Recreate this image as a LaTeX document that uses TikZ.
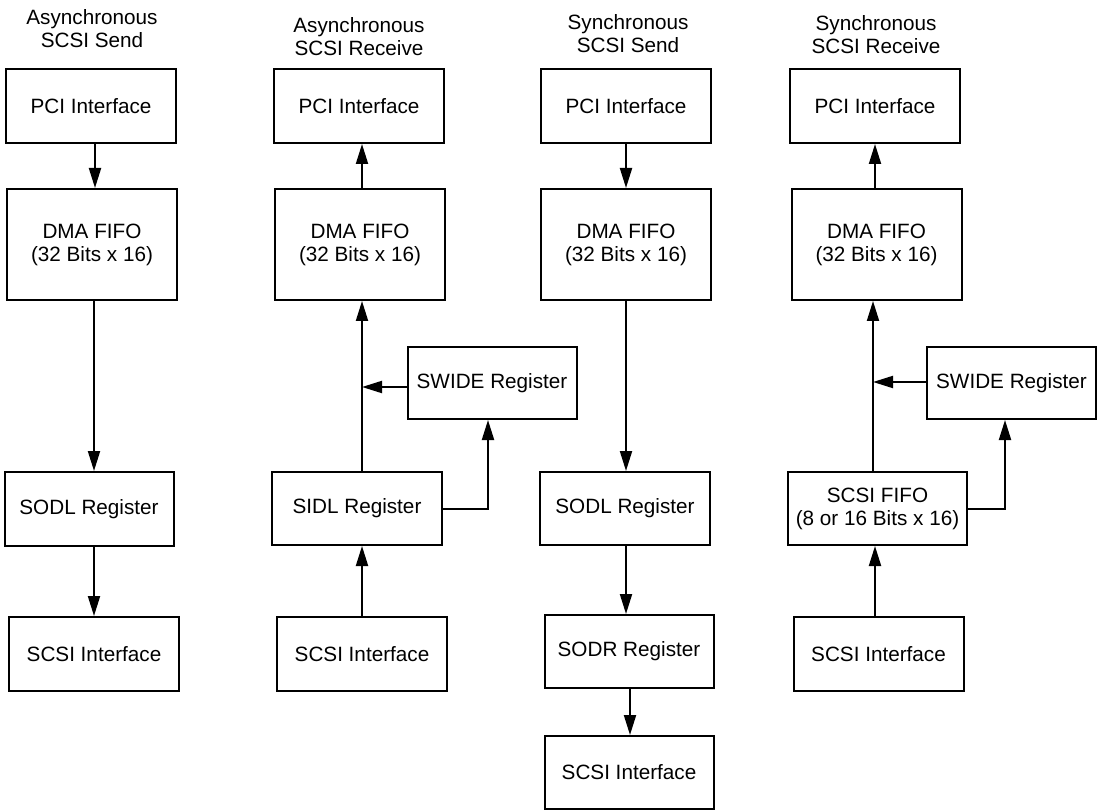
\documentclass[tikz,border=0pt]{standalone}
\usepackage{fontspec}
\setmainfont{Liberation Sans}
\usetikzlibrary{arrows.meta}
\begin{document}
\begin{tikzpicture}[x=1pt,y=-1pt,>={Triangle[length=20pt,width=12pt]}]
                  \tikzset{
                      blk/.style={draw,line width=2pt,inner sep=0pt,align=center,minimum width=170pt,minimum height=74pt},
                      tall/.style={blk,minimum height=111pt},
                      ttl/.style={inner sep=0pt,align=center},
                      con/.style={->,line width=2pt}
                  }
                  \useasboundingbox (0,0) rectangle (1098,810);
                  \fontsize{20.7}{23}\selectfont
                  % asynchronous send
                  \node[ttl] (a-title) at (92,28.5) {Asynchronous\\SCSI Send};
                  \node[blk] (a-pci) at (91,106) {PCI Interface};
                  \node[tall] (a-dma) at (92,244.5) {DMA FIFO\\(32 Bits x 16)};
                  \node[blk,minimum width=169pt] (a-sodl) at (89,509) {SODL Register};
                  \node[blk] (a-scsi) at (94,654) {SCSI Interface};
                  \draw[con] (a-pci.south -| 95,0) -- (a-dma.north -| 95,0);
                  \draw[con] (a-dma.south -| 94,0) -- (a-sodl.north -| 94,0);
                  \draw[con] (a-sodl.south -| 94,0) -- (a-scsi.north -| 94,0);
                  % asynchronous receive
                  \node[ttl] (b-title) at (359,36.5) {Asynchronous\\SCSI Receive};
                  \node[blk] (b-pci) at (359,106) {PCI Interface};
                  \node[tall] (b-dma) at (360,244.5) {DMA FIFO\\(32 Bits x 16)};
                  \node[blk,minimum width=169pt,minimum height=72pt] (b-swide) at (492,383) {SWIDE Register};
                  \node[blk,minimum height=73pt] (b-sidl) at (357,508.5) {SIDL Register};
                  \node[blk] (b-scsi) at (362,654) {SCSI Interface};
                  \draw[con] (b-scsi.north -| 362,0) -- (b-sidl.south -| 362,0);
                  \draw[con] (b-sidl.north -| 362,0) -- (b-dma.south -| 362,0);
                  \draw[con] (b-dma.north -| 362,0) -- (b-pci.south -| 362,0);
                  \draw[con] (b-swide.west |- 0,387) -- (362,387);
                  \draw[con] (b-sidl.east) -| (b-swide.south -| 488,0);
                  % synchronous send
                  \node[ttl] (c-title) at (628,34) {Synchronous\\SCSI Send};
                  \node[blk] (c-pci) at (626,106) {PCI Interface};
                  \node[tall] (c-dma) at (626,244.5) {DMA FIFO\\(32 Bits x 16)};
                  \node[blk,minimum height=73pt] (c-sodl) at (625,508.5) {SODL Register};
                  \node[blk,minimum width=169pt,minimum height=73pt] (c-sodr) at (629,651.5) {SODR Register};
                  \node[blk,minimum width=169pt,minimum height=73pt] (c-scsi) at (629,772.5) {SCSI Interface};
                  \draw[con] (c-pci.south -| 626,0) -- (c-dma.north -| 626,0);
                  \draw[con] (c-dma.south -| 626,0) -- (c-sodl.north -| 626,0);
                  \draw[con] (c-sodl.south -| 626,0) -- (c-sodr.north -| 626,0);
                  \draw[con] (c-sodr.south -| 630,0) -- (c-scsi.north -| 630,0);
                  % synchronous receive
                  \node[ttl] (d-title) at (876,34.5) {Synchronous\\SCSI Receive};
                  \node[blk] (d-pci) at (875,106) {PCI Interface};
                  \node[tall] (d-dma) at (876.5,244.5) {DMA FIFO\\(32 Bits x 16)};
                  \node[blk,minimum width=169pt,minimum height=72pt] (d-swide) at (1011.5,383) {SWIDE Register};
                  \node[blk,minimum width=179pt,minimum height=73pt] (d-fifo) at (877.5,508.5) {SCSI FIFO\\(8 or 16 Bits x 16)};
                  \node[blk] (d-scsi) at (878.5,654) {SCSI Interface};
                  \draw[con] (d-scsi.north -| 875,0) -- (d-fifo.south -| 875,0);
                  \draw[con] (d-fifo.north -| 873,0) -- (d-dma.south -| 873,0);
                  \draw[con] (d-dma.north -| 875,0) -- (d-pci.south -| 875,0);
                  \draw[con] (d-swide.west |- 0,382) -- (873,382);
                  \draw[con] (d-fifo.east) -| (d-swide.south -| 1005,0);
              \end{tikzpicture}
\end{document}
